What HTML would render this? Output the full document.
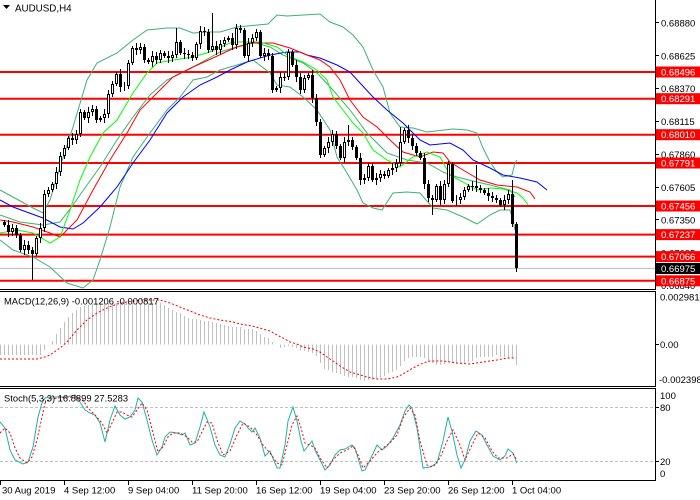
<!DOCTYPE html>
<html><head><meta charset="utf-8">
<style>
html,body{margin:0;padding:0;background:#fff;}
svg{display:block;}
text{font-family:"Liberation Sans",sans-serif;font-size:9.5px;fill:#000;}
</style></head><body>
<svg width="700" height="500" viewBox="0 0 700 500" xmlns="http://www.w3.org/2000/svg">
<defs>
<clipPath id="cm"><rect x="0" y="0" width="655" height="289"/></clipPath>
<clipPath id="cd"><rect x="0" y="292" width="655" height="94"/></clipPath>
<clipPath id="cs"><rect x="0" y="389" width="655" height="91"/></clipPath>
</defs>
<rect width="700" height="500" fill="#fff"/>

<!-- Main panel horizontal levels -->
<g stroke="#ff0000" stroke-width="2">
<line x1="0" y1="72" x2="655" y2="72"/>
<line x1="0" y1="98.7" x2="655" y2="98.7"/>
<line x1="0" y1="134.7" x2="655" y2="134.7"/>
<line x1="0" y1="163" x2="655" y2="163"/>
<line x1="0" y1="206" x2="655" y2="206"/>
<line x1="0" y1="234.6" x2="655" y2="234.6"/>
<line x1="0" y1="256.6" x2="655" y2="256.6"/>
<line x1="0" y1="280.8" x2="655" y2="280.8"/>
</g>
<line x1="0" y1="268.5" x2="655" y2="268.5" stroke="#c0c0c0" stroke-width="1"/>

<!-- indicator lines main -->
<g clip-path="url(#cm)" fill="none" stroke-width="1">
<polyline stroke="#3cb371" points="0,190 13,197 33,208 43,213 50,200 60,167 73,127 87,80 97,63 117,53 133,40 147,30 167,28 180,28 193,33 207,32 220,32 237,27 268,24 277,15 287,16 320,14 330,22 343,27 353,35 363,47 373,70 383,87 390,113 400,127 413,128 427,132 453,129 467,130 477,133 483,148 490,162 497,172 503,177 512,175 515,163 517,160"/>
<polyline stroke="#3cb371" points="0,240 13,250 33,257 50,267 67,283 83,288 93,280 100,260 110,227 120,187 133,157 150,133 167,110 180,97 193,80 207,77 220,70 237,65 253,60 270,73 277,85 290,87 303,97 317,110 330,130 337,157 347,173 357,190 363,203 373,208 382,210 393,193 407,192 420,193 433,208 447,210 463,217 477,224 490,215 500,210 510,210 513,220 515,230"/>
<polyline stroke="#3cb371" points="0,215 20,222 43,225 60,222 73,205 87,185 100,167 117,140 133,117 150,95 167,80 193,67 220,52 253,42 270,47 283,55 303,63 317,73 333,90 350,110 367,133 387,153 407,160 427,163 443,172 457,177 477,182 490,185 510,190 515,197"/>
<polyline stroke="#0000ff" points="0,200 13,207 43,218 60,227 73,229 83,223 100,207 117,187 133,163 150,140 167,113 183,97 200,85 217,77 230,70 247,62 270,55 287,52 300,52 307,55 320,58 337,65 350,72 360,83 373,97 387,110 403,123 420,140 430,145 450,143 463,150 473,160 490,168 503,175 520,178 537,182 547,190"/>
<polyline stroke="#ff0000" points="0,220 13,222 33,227 50,233 60,237 77,220 93,190 110,160 127,133 140,110 157,93 173,77 193,67 213,58 230,50 237,47 253,43 273,43 290,48 307,55 320,60 330,67 340,80 350,100 363,117 377,127 390,140 403,152 420,157 433,152 443,153 450,162 463,170 480,180 497,185 517,187 530,192 535,199"/>
<polyline stroke="#00ff00" points="0,233 17,230 33,233 50,243 60,237 70,210 80,180 90,157 103,133 117,120 133,93 147,73 157,63 173,60 187,58 207,53 230,43 237,42 260,42 277,47 290,57 303,62 317,70 327,80 333,97 343,110 353,123 363,133 373,150 387,160 400,167 413,157 427,152 440,157 450,175 463,182 477,190 490,188 503,189 517,193 523,198 528,205"/>
</g>

<!-- candles -->
<g id="candles" shape-rendering="crispEdges"></g>

<!-- MACD -->
<g id="hist" stroke="#c0c0c0" stroke-width="1" shape-rendering="crispEdges"></g>
<polyline clip-path="url(#cd)" fill="none" stroke="#ff0000" stroke-width="1" stroke-dasharray="2,2" points="0,359 37,359 45,357 50,355 60,348 67,342 77,330 87,320 97,313 107,308 117,304 127,302 140,300 160,300 170,303 180,307 190,311 200,315 210,318 220,320 233,322 240,324 252,326 263,329 270,331 277,335 283,338 290,342 297,344 303,347 313,349 320,352 327,357 333,361 340,366 350,372 357,374 367,377 377,379 387,379 397,377 403,374 413,368 423,363 430,361 443,361 457,363 470,364 483,362 497,360 507,358 516,358"/>

<!-- Stoch -->
<g stroke="#c0c0c0" stroke-width="1" stroke-dasharray="3,2">
<line x1="0" y1="407.5" x2="655" y2="407.5"/>
<line x1="0" y1="461.5" x2="655" y2="461.5"/>
</g>
<g clip-path="url(#cs)" fill="none" stroke-width="1">
<polyline stroke="#20b2aa" points="0,422 5,428 10,450 15,460 23,464 28,462 33,447 38,417 42,403 45,398 50,397 57,397 67,397 75,395 80,402 85,410 90,413 95,415 100,423 105,442 110,420 115,406 120,415 125,419 130,417 135,410 138,398 142,402 147,420 152,440 157,455 162,447 165,437 170,432 177,433 182,435 185,433 190,445 195,443 200,427 204,412 210,427 215,445 220,455 225,457 230,444 235,428 240,421 245,424 248,428 252,432 255,428 260,438 265,456 270,451 277,468 280,468 285,445 288,421 293,407 297,421 301,441 304,451 308,446 312,441 315,450 320,460 325,470 330,465 335,455 340,450 345,449 352,445 355,448 358,458 362,471 365,470 370,460 377,445 382,450 387,446 393,438 400,425 405,411 409,405 412,408 417,428 423,468 430,467 437,463 443,441 448,417 452,431 457,455 461,468 465,460 470,441 476,431 482,435 487,445 493,456 500,460 505,456 508,449 513,453 517,463"/>
<polyline stroke="#ff0000" stroke-dasharray="2,2" points="0,433 5,428 10,433 15,448 20,458 27,463 32,457 37,440 42,417 45,403 50,399 67,397 77,398 83,400 88,408 95,415 102,423 107,433 112,423 117,412 122,412 127,415 132,417 137,410 142,403 147,410 153,433 158,452 163,447 168,437 173,433 180,433 187,437 192,442 197,442 202,432 207,422 212,423 217,440 223,455 230,451 237,435 243,423 250,427 257,435 263,445 270,453 277,463 282,465 287,445 292,425 297,416 301,428 305,443 310,445 315,448 320,458 327,468 333,460 340,453 347,450 353,446 358,455 363,468 370,461 377,453 383,448 390,443 397,435 403,418 410,408 415,415 420,441 427,465 433,467 440,458 447,441 453,430 460,445 465,460 472,445 478,433 485,438 492,451 498,458 507,458 513,454 517,460"/>
</g>

<!-- frames -->
<g stroke="#000" stroke-width="1" shape-rendering="crispEdges">
<line x1="0" y1="289.5" x2="656" y2="289.5"/>
<line x1="0" y1="291.5" x2="656" y2="291.5"/>
<line x1="0" y1="386.5" x2="656" y2="386.5"/>
<line x1="0" y1="388.5" x2="656" y2="388.5"/>
<line x1="0" y1="480.5" x2="656" y2="480.5"/>
<line x1="655.5" y1="0" x2="655.5" y2="290"/>
<line x1="655.5" y1="291" x2="655.5" y2="387"/>
<line x1="655.5" y1="388" x2="655.5" y2="481"/>
<!-- price ticks -->
<line x1="656" y1="22.5" x2="659" y2="22.5"/>
<line x1="656" y1="55.5" x2="659" y2="55.5"/>
<line x1="656" y1="88.5" x2="659" y2="88.5"/>
<line x1="656" y1="121.5" x2="659" y2="121.5"/>
<line x1="656" y1="154.5" x2="659" y2="154.5"/>
<line x1="656" y1="187.5" x2="659" y2="187.5"/>
<line x1="656" y1="219.5" x2="659" y2="219.5"/>
<line x1="656" y1="252.5" x2="659" y2="252.5"/>
<line x1="656" y1="285.5" x2="659" y2="285.5"/>
<line x1="656" y1="344.5" x2="659" y2="344.5"/>
<line x1="656" y1="407.5" x2="659" y2="407.5"/>
<line x1="656" y1="461.5" x2="659" y2="461.5"/>
<!-- time ticks -->
<line x1="0.5" y1="481" x2="0.5" y2="485"/>
<line x1="64.5" y1="481" x2="64.5" y2="485"/>
<line x1="128.5" y1="481" x2="128.5" y2="485"/>
<line x1="192.5" y1="481" x2="192.5" y2="485"/>
<line x1="256.5" y1="481" x2="256.5" y2="485"/>
<line x1="320.5" y1="481" x2="320.5" y2="485"/>
<line x1="384.5" y1="481" x2="384.5" y2="485"/>
<line x1="448.5" y1="481" x2="448.5" y2="485"/>
<line x1="512.5" y1="481" x2="512.5" y2="485"/>
</g>

<!-- price axis labels -->
<g>
<text x="661" y="26.5">0.68880</text>
<text x="661" y="59.3">0.68625</text>
<text x="661" y="92">0.68370</text>
<text x="661" y="125">0.68115</text>
<text x="661" y="158">0.67860</text>
<text x="661" y="190.8">0.67605</text>
<text x="661" y="223.5">0.67350</text>
<text x="661" y="256.5">0.67095</text>
<text x="661" y="289">0.66840</text>
</g>
<!-- boxed labels -->
<g>
<rect x="656" y="66.5" width="44" height="11" fill="#ff0000"/><text x="661" y="75.5" style="fill:#fff">0.68496</text>
<rect x="656" y="93.2" width="44" height="11" fill="#ff0000"/><text x="661" y="102.2" style="fill:#fff">0.68291</text>
<rect x="656" y="129.2" width="44" height="11" fill="#ff0000"/><text x="661" y="138.2" style="fill:#fff">0.68010</text>
<rect x="656" y="157.5" width="44" height="11" fill="#ff0000"/><text x="661" y="166.5" style="fill:#fff">0.67791</text>
<rect x="656" y="200.5" width="44" height="11" fill="#ff0000"/><text x="661" y="209.5" style="fill:#fff">0.67456</text>
<rect x="656" y="229.1" width="44" height="11" fill="#ff0000"/><text x="661" y="238.1" style="fill:#fff">0.67237</text>
<rect x="656" y="251.1" width="44" height="11" fill="#ff0000"/><text x="661" y="260.1" style="fill:#fff">0.67066</text>
<rect x="656" y="263" width="44" height="11" fill="#000"/><text x="661" y="272" style="fill:#fff">0.66975</text>
<rect x="656" y="275.3" width="44" height="11" fill="#ff0000"/><text x="661" y="284.3" style="fill:#fff">0.66875</text>
</g>

<!-- MACD/Stoch axis labels -->
<text x="660" y="300.5">0.002981</text>
<text x="660" y="348">0.00</text>
<text x="659" y="383">-0.002398</text>
<text x="660" y="399">100</text>
<text x="660" y="411">80</text>
<text x="660" y="465">20</text>
<text x="660" y="477">0</text>

<!-- titles -->
<polygon points="3,5 10,5 6.5,9" fill="#000"/>
<text x="15" y="11.5" style="font-size:9.8px">AUDUSD,H4</text>
<text x="4" y="304.5" style="font-size:9.4px">MACD(12,26,9) -0.001206 -0.000817</text>
<text x="4" y="401.5" style="font-size:9.4px">Stoch(5,3,3) 16.8899 27.5283</text>

<!-- time labels -->
<text x="2" y="493.5">30 Aug 2019</text>
<text x="64" y="493.5">4 Sep 12:00</text>
<text x="128" y="493.5">9 Sep 04:00</text>
<text x="192" y="493.5">11 Sep 20:00</text>
<text x="256" y="493.5">16 Sep 12:00</text>
<text x="320" y="493.5">19 Sep 04:00</text>
<text x="384" y="493.5">23 Sep 20:00</text>
<text x="448" y="493.5">26 Sep 12:00</text>
<text x="512" y="493.5">1 Oct 04:00</text>
</svg>
<script>
(function(){
var C=[225,232,228,235,250,245,250,254,238,228,194,190,184,172,156,148,138,140,134,112,118,112,109,120,118,114,94,84,74,87,86,63,48,50,47,60,62,56,60,53,56,58,55,42,53,54,55,58,44,31,32,50,46,50,44,40,38,45,28,30,56,43,38,32,56,53,56,90,88,77,77,52,65,77,90,78,75,98,122,155,148,142,134,146,158,142,140,147,158,180,178,166,180,178,174,176,170,168,163,142,130,138,146,153,158,184,198,200,186,200,184,164,201,200,197,190,186,186,188,190,193,196,198,200,205,200,194,224,268];
var W={7:[null,280],43:[28,null],52:[13,null],107:[null,215],118:[165,null],127:[180,null],128:[null,272],86:[125,null],99:[127,null]};
var s='',o=222;
for(var i=0;i<C.length;i++){
 var c=C[i],x=4+4*i,t=Math.min(o,c),b=Math.max(o,c);
 var hi=t-(2+(i*3)%4),lo=b+(2+(i*7)%4);
 if(W[i]){if(W[i][0]!==null)hi=W[i][0];if(W[i][1]!==null)lo=W[i][1];}
 s+='<line x1="'+(x+0.5)+'" y1="'+hi+'" x2="'+(x+0.5)+'" y2="'+lo+'" stroke="#000" stroke-width="1"/>';
 if(c>=o){s+='<rect x="'+(x-1)+'" y="'+t+'" width="3" height="'+Math.max(1,b-t)+'" fill="#000"/>';}
 else{s+='<rect x="'+(x-0.5)+'" y="'+(t+0.5)+'" width="2" height="'+Math.max(0,b-t-1)+'" fill="#fff" stroke="#000" stroke-width="1"/>';}
 o=c;
}
document.getElementById('candles').innerHTML=s;
var H=[[0,355],[40,355],[44,350],[48,344],[52,341],[56,334],[60,328],[64,322],[68,317],[72,313],[76,310],[80,307],[84,306],[88,305],[92,304],[96,303],[160,303],[164,305],[168,308],[172,310],[176,312],[180,313],[184,316],[188,318],[200,320],[212,322],[224,325],[232,327],[240,327],[245,329],[253,329],[257,332],[261,335],[264,337],[268,338],[273,343],[277,344],[280,348],[284,347],[288,346],[292,347],[297,348],[301,350],[305,351],[309,352],[313,353],[317,357],[321,365],[324,369],[328,370],[332,372],[337,373],[341,374],[344,376],[349,377],[357,378],[361,381],[364,381],[368,380],[377,379],[381,378],[384,376],[388,373],[392,372],[397,370],[401,365],[404,361],[408,358],[412,357],[420,357],[424,358],[428,362],[432,363],[437,366],[441,365],[444,364],[448,362],[452,363],[456,364],[464,363],[468,362],[472,361],[476,358],[479,357],[492,357],[496,355],[499,357],[503,356],[507,358],[512,358],[516,365]];
function interp(P,x){for(var k=0;k<P.length-1;k++){if(x<=P[k+1][0]){var a=P[k],b=P[k+1];return a[1]+(b[1]-a[1])*(x-a[0])/(b[0]-a[0]);}}return P[P.length-1][1];}
var h='';
for(var x=0;x<=516;x+=4){var y=Math.round(interp(H,x));if(Math.abs(y-344.5)<1)continue;h+='<line x1="'+(x+0.5)+'" y1="344.5" x2="'+(x+0.5)+'" y2="'+y+'"/>';}
document.getElementById('hist').innerHTML=h;
})();
</script>
</body></html>
